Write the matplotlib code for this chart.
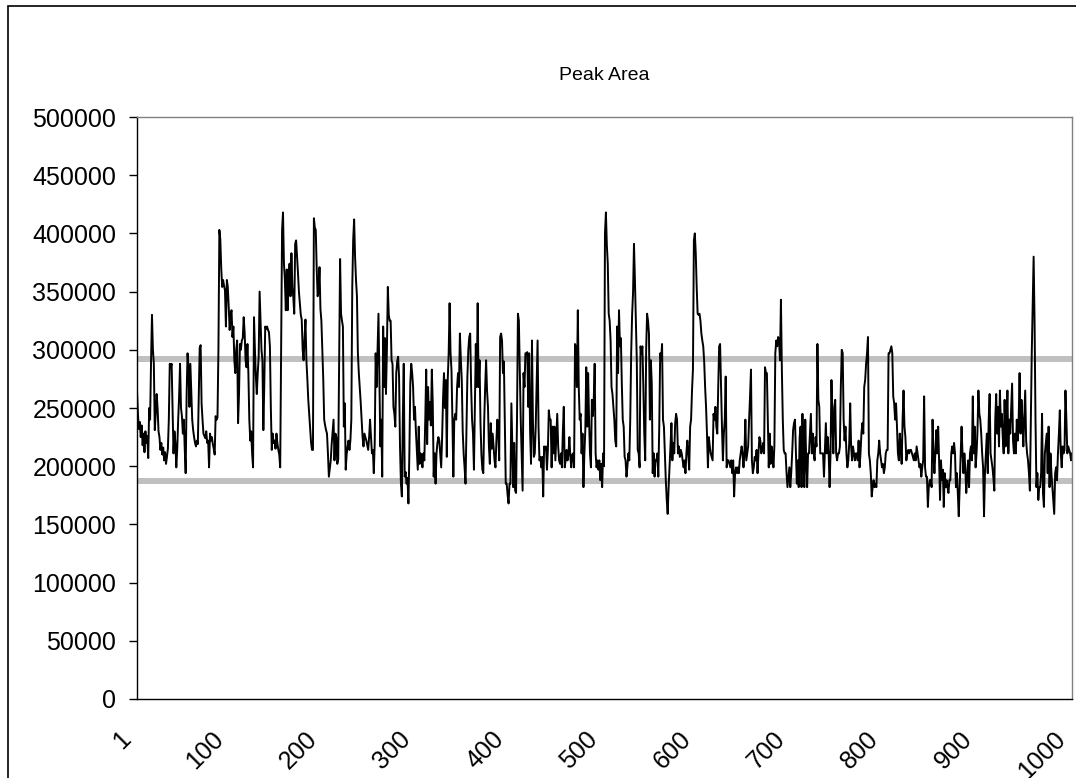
import matplotlib.pyplot as plt
import matplotlib.patches as patches
from matplotlib.transforms import ScaledTranslation
import numpy as np

plt.rcParams['font.family'] = ['Liberation Sans', 'DejaVu Sans']

# Peak area per injection, in thousands
area_001_100 = [265, 245, 232, 238, 225, 235, 218, 228, 212, 230, 220, 226, 207,
                250, 240, 290, 330, 300, 288, 231, 245, 262,
                250, 230, 225, 214, 220, 210, 216, 205, 212, 202, 208, 215, 240, 288,
                285, 288, 250, 211, 230, 220, 199, 215, 240, 260,
                288, 250, 243, 228, 240, 215, 194, 260, 297, 285,
                251, 288, 265, 240, 231, 225, 220, 217, 222, 219, 260,
                302, 304, 254, 240, 228, 226, 224, 230, 220, 222, 199,
                228, 222, 225, 219, 215, 210, 243, 240, 242, 300,
                403, 395, 370, 354, 360, 355, 351, 320, 360, 354, 337, 317]
area_101_200 = [330, 334, 311, 320, 291, 280, 300, 308, 237, 262,
                305, 300, 308, 310, 328, 315, 291, 285, 305, 280,
                240, 222, 230, 211, 199, 328, 300, 277, 262, 280,
                294, 350, 326, 300, 291, 231, 270, 320, 318, 320,
                317, 315, 303, 250, 214, 228, 220, 222, 215, 228,
                220, 214, 210, 199, 300, 403, 418, 374, 360, 334,
                369, 334, 360, 374, 346, 383, 354, 345, 331, 391,
                394, 380, 366, 350, 340, 330, 326, 300, 291, 310,
                326, 291, 275, 257, 245, 234, 220, 214, 214, 413,
                405, 403, 370, 346, 350, 371, 335, 325, 300, 275]
area_201_300 = [240, 235, 231, 228, 211, 191, 198, 205, 219, 230,
                240, 205, 228, 225, 202, 206, 290, 378, 331, 325,
                320, 234, 254, 197, 210, 217, 222, 214, 222, 240,
                354, 395, 412, 380, 360, 346, 297, 280, 268, 255,
                240, 225, 217, 228, 225, 222, 218, 214, 225, 240,
                225, 211, 214, 194, 220, 297, 268, 300, 331, 275,
                217, 240, 191, 320, 268, 310, 262, 300, 354, 330,
                325, 325, 291, 288, 251, 245, 234, 280, 290, 294,
                277, 217, 185, 174, 240, 288, 191, 195, 185, 190,
                168, 211, 271, 288, 280, 268, 240, 251, 230, 214]
area_301_400 = [197, 234, 202, 211, 206, 199, 211, 205, 240, 283,
                219, 268, 240, 255, 235, 283, 254, 191, 211, 185,
                211, 220, 225, 222, 211, 199, 225, 258, 280, 250,
                274, 208, 274, 297, 340, 297, 283, 240, 191, 240,
                245, 240, 268, 280, 268, 314, 292, 274, 230, 211,
                199, 185, 230, 277, 300, 311, 314, 268, 240, 228,
                197, 250, 305, 268, 340, 268, 291, 237, 210, 197,
                194, 240, 268, 291, 265, 251, 217, 202, 237, 215,
                228, 217, 205, 199, 222, 240, 230, 205, 311, 314,
                308, 280, 290, 240, 185, 185, 175, 168, 185, 185]
area_401_500 = [254, 220, 182, 220, 179, 177, 240, 331, 325, 283,
                240, 211, 179, 280, 268, 297, 297, 298, 251, 297,
                230, 202, 308, 240, 208, 211, 234, 270, 308, 234,
                205, 208, 199, 208, 174, 217, 214, 217, 197, 214,
                248, 240, 240, 199, 234, 211, 234, 205, 225, 245,
                217, 205, 202, 211, 199, 230, 251, 199, 205, 214,
                205, 211, 225, 208, 199, 210, 211, 199, 305, 302,
                268, 334, 268, 240, 245, 211, 228, 182, 211, 231,
                285, 234, 280, 240, 211, 199, 257, 243, 257, 288,
                211, 199, 205, 197, 205, 188, 202, 182, 211, 200]
area_501_600 = [400, 418, 390, 374, 331, 325, 308, 268, 262, 251,
                240, 222, 217, 320, 280, 334, 303, 310, 271, 240,
                234, 208, 205, 191, 200, 211, 205, 240, 297, 330,
                349, 391, 360, 325, 291, 214, 211, 199, 303, 297,
                303, 268, 228, 205, 300, 331, 325, 314, 240, 291,
                271, 194, 211, 191, 205, 205, 211, 191, 234, 297,
                291, 305, 240, 234, 211, 188, 171, 159, 182, 199,
                217, 237, 205, 220, 211, 237, 245, 240, 211, 217,
                208, 214, 211, 205, 199, 205, 194, 211, 222, 211,
                197, 234, 240, 265, 283, 394, 400, 383, 354, 331]
area_601_700 = [330, 331, 325, 314, 308, 303, 290, 268, 251, 228,
                199, 225, 217, 211, 208, 205, 245, 240, 251, 234,
                228, 268, 303, 305, 270, 234, 205, 228, 240, 277,
                199, 205, 205, 202, 199, 205, 194, 205, 174, 194,
                199, 194, 199, 194, 205, 211, 217, 211, 199, 211,
                240, 205, 211, 217, 240, 260, 283, 205, 194, 199,
                208, 205, 214, 194, 211, 225, 222, 211, 214, 220,
                211, 285, 280, 280, 240, 199, 228, 202, 217, 211,
                199, 217, 297, 308, 303, 311, 308, 291, 343, 283,
                240, 214, 211, 211, 194, 182, 191, 199, 182, 194]
area_701_800 = [211, 231, 237, 240, 211, 185, 205, 182, 225, 234,
                182, 245, 211, 182, 240, 205, 182, 211, 211, 228,
                245, 211, 228, 211, 205, 225, 217, 305, 257, 251,
                211, 211, 211, 211, 191, 214, 237, 211, 225, 211,
                182, 211, 274, 240, 211, 251, 257, 211, 205, 211,
                211, 217, 268, 300, 297, 240, 222, 234, 211, 199,
                205, 220, 254, 217, 205, 217, 211, 205, 211, 211,
                205, 222, 199, 211, 228, 237, 228, 268, 274, 288,
                297, 311, 211, 205, 194, 174, 182, 188, 182, 185,
                182, 205, 211, 222, 211, 205, 199, 202, 194, 199]
area_801_900 = [211, 214, 214, 297, 297, 300, 303, 297, 260, 254,
                240, 254, 234, 211, 205, 228, 217, 202, 240, 265,
                234, 225, 205, 211, 214, 211, 214, 214, 211, 208,
                205, 211, 205, 217, 211, 205, 199, 202, 191, 199,
                205, 260, 199, 191, 191, 165, 182, 188, 188, 182,
                240, 211, 194, 211, 231, 211, 234, 205, 171, 205,
                188, 197, 165, 194, 182, 188, 182, 177, 188, 188,
                211, 217, 211, 220, 211, 182, 194, 177, 157, 182,
                205, 234, 211, 194, 211, 199, 177, 190, 205, 182,
                211, 217, 205, 260, 211, 234, 199, 211, 230, 265]
area_901_1000 = [245, 240, 228, 211, 199, 157, 194, 211, 228, 194,
                 240, 262, 211, 205, 199, 190, 179, 240, 262, 228,
                 251, 217, 265, 234, 245, 225, 211, 257, 217, 234,
                 265, 211, 240, 228, 250, 271, 222, 211, 228, 211,
                 240, 222, 240, 280, 228, 257, 240, 217, 240, 265,
                 222, 211, 205, 194, 179, 240, 297, 340, 380, 325,
                 240, 182, 194, 171, 182, 182, 194, 245, 177, 165,
                 211, 220, 228, 194, 234, 182, 211, 194, 182, 170,
                 159, 194, 199, 188, 211, 228, 248, 211, 199, 217,
                 211, 214, 265, 240, 211, 217, 214, 211, 205, 211]

peak_area = np.array(area_001_100 + area_101_200 + area_201_300 + area_301_400
                     + area_401_500 + area_501_600 + area_601_700 + area_701_800
                     + area_801_900 + area_901_1000) * 1000
sample = np.arange(1, len(peak_area) + 1)

# control limits (grey bands)
upper_limit = 292000
lower_limit = 187000

x_ticks = [1, 100, 200, 300, 400, 500, 600, 700, 800, 900, 1000]
y_ticks = np.arange(0, 500001, 50000)

fig = plt.figure(figsize=(10.76, 7.78), dpi=100)
ax = fig.add_axes([137 / 1076, 1 - 699 / 778, (1072 - 137) / 1076, (699 - 117) / 778])

ax.axhline(upper_limit, color='#c0c0c0', linewidth=4.3, zorder=1)
ax.axhline(lower_limit, color='#c0c0c0', linewidth=4.3, zorder=1)
ax.plot(sample, peak_area, color='black', linewidth=1.4, zorder=2)

ax.set_xlim(1, len(peak_area))
ax.set_ylim(0, 500000)
ax.set_yticks(y_ticks)
ax.set_yticklabels([str(int(v)) for v in y_ticks])
ax.set_xticks(x_ticks)
ax.set_xticklabels([str(v) for v in x_ticks], rotation=45, ha='right', va='center',
                   rotation_mode='anchor')

ax.tick_params(axis='y', length=6, width=1, pad=9, labelsize=18, direction='out')
ax.tick_params(axis='x', length=0, pad=26, labelsize=18)
for lab in ax.get_xticklabels():
    lab.set_transform(lab.get_transform() + ScaledTranslation(-0.10, 0, fig.dpi_scale_trans))

for side in ['top', 'right']:
    ax.spines[side].set_color('#808080')
for side in ['left', 'bottom']:
    ax.spines[side].set_color('black')
for sp in ax.spines.values():
    sp.set_linewidth(1)

fig.text(604 / 1076, 1 - 75 / 778, 'Peak Area', ha='center', va='center', fontsize=14)

# chart area border (only left/top are inside the picture)
fig.patches.append(patches.Rectangle((8 / 1076, -0.1), 1.2, 1.1 - 7 / 778 + 0.001,
                                     transform=fig.transFigure, fill=False,
                                     edgecolor='black', linewidth=1.2))

fig.savefig('out.png', dpi=100)
